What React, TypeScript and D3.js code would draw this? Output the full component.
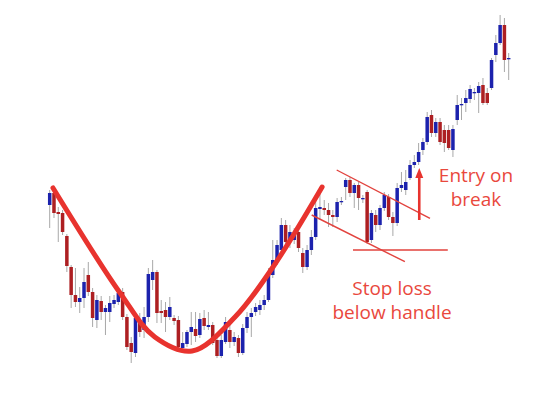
import React from "react";
import * as d3 from "d3";

// Candle data (price units), one entry per session
const opens = [195,207,188,187,164,133,105,98,102,125, 108,80,99,88,88,96,98,108,83,57, 47,80,70,83,120,128,89,90,83,82, 80,52,56,68,71,65,82,73,75,60, 44,58,70,58,62,47,72,83,88,90, 95,100,125,138,150,175,158,160,168,147, 133,150,163,191,192,190,185,183,198,213, 220,207,215,201,208,160,185,175,192,203, 183,177,212,210,222,235,238,250,258,285, 267,278,270,270,250,280,295,297,301,307, 307,315,307,312,345,357,375,341];
const closes = [207,187,186,168,134,105,98,102,118,108, 82,100,88,92,97,100,107,83,53,48, 82,68,83,126,128,87,87,83,93,79, 53,57,68,73,64,81,74,75,57,44, 60,78,58,63,47,72,83,87,93,95, 100,125,140,155,175,158,168,167,152,133, 150,163,192,193,190,185,183,198,199,220, 207,215,202,202,158,187,175,192,205,183, 177,212,215,218,235,238,248,258,283,267, 278,258,257,252,271,295,296,302,311,308, 314,297,297,340,357,375,340,342];
const highs = [210,212,193,190,166,135,132,113,132,138, 112,105,104,95,104,105,113,112,86,63, 85,87,93,132,140,130,100,98,103,85, 84,68,70,88,88,87,90,88,78,63, 65,83,75,68,65,76,88,92,97,100, 105,132,160,160,182,180,175,172,172,152, 155,170,202,207,200,197,190,202,203,222, 223,217,218,205,210,190,190,195,208,206, 188,217,228,230,240,245,257,262,288,290, 282,282,275,275,275,305,302,310,315,312, 318,322,312,342,365,385,382,347];
const lows = [172,182,158,165,128,92,93,87,92,104, 73,72,80,65,78,92,95,80,50,37, 43,63,62,78,110,77,77,68,80,75, 50,50,53,55,58,62,70,70,55,42, 42,56,52,54,43,45,67,63,84,85, 90,98,122,135,148,154,152,156,148,127, 130,145,160,180,185,173,173,178,195,200, 203,192,190,197,156,157,168,170,189,180, 164,174,208,205,220,232,235,245,255,263, 263,255,248,250,243,275,280,288,297,300, 287,295,295,310,338,355,328,320];

// Cup annotation (session index, price)
const cupIdx = [0.77, 16.4, 24.5, 33.2, 43.2, 52.05, 63.5];
const cupPrice = [212, 107, 63, 49, 83, 133, 213];
// Handle channel lines
const upperIdx = [66.9, 88.65];
const upperPrice = [230, 181.7];
const lowerIdx = [61.07, 82.8];
const lowerPrice = [185, 138.3];
// Stop level
const stopIdx = [70.7, 92.8];
const stopPrice = 150;
// Entry arrow
const arrowIdx = 86.15;
const arrowPrice = [180, 230];

const W = 554;
const H = 415;

export default function App() {
  const x = d3.scaleLinear().domain([0, opens.length - 1]).range([49.7, 508.7]);
  const y = d3.scaleLinear().domain([0, 400]).range([400, 0]);
  const bodyW = 3.5;
  const blue = "#1c22ad";
  const red = "#ad1f22";
  const annot = "#e8332e";
  const thin = "#e2423d";
  const textCol = "#e9483d";

  const cupLine = d3
    .line<number>()
    .x((_, i) => x(cupIdx[i]))
    .y((d) => y(d))
    .curve(d3.curveCatmullRom.alpha(0.5));

  const ax = x(arrowIdx);
  const ayBottom = y(arrowPrice[0]);
  const ayTop = y(arrowPrice[1]);

  const font = "'Open Sans', sans-serif";

  return (
    <div style={{ position: "fixed", left: 0, top: 0, width: W, height: H, background: "#fff" }}>
      <svg width={W} height={H} viewBox={`0 0 ${W} ${H}`} style={{ display: "block" }}>
        <rect x={0} y={0} width={W} height={H} fill="#fff" />
        <g>
          {opens.map((o, i) => {
            const c = closes[i];
            const up = c >= o;
            const top = y(Math.max(o, c));
            const bot = y(Math.min(o, c));
            const cx = x(i);
            return (
              <g key={i}>
                <line x1={cx} x2={cx} y1={y(highs[i])} y2={y(lows[i])} stroke="#a8a8a8" strokeWidth={1} />
                <rect
                  x={cx - bodyW / 2}
                  y={top}
                  width={bodyW}
                  height={Math.max(1.3, bot - top)}
                  fill={up ? blue : red}
                />
              </g>
            );
          })}
        </g>
        <path d={cupLine(cupPrice) || ""} fill="none" stroke={annot} strokeWidth={5} strokeLinecap="round" strokeLinejoin="round" />
        <line x1={x(upperIdx[0])} y1={y(upperPrice[0])} x2={x(upperIdx[1])} y2={y(upperPrice[1])} stroke={thin} strokeWidth={1.4} />
        <line x1={x(lowerIdx[0])} y1={y(lowerPrice[0])} x2={x(lowerIdx[1])} y2={y(lowerPrice[1])} stroke={thin} strokeWidth={1.4} />
        <line x1={x(stopIdx[0])} y1={y(stopPrice)} x2={x(stopIdx[1])} y2={y(stopPrice)} stroke={thin} strokeWidth={1.4} />
        <line x1={ax} y1={ayBottom} x2={ax} y2={ayTop + 6} stroke={annot} strokeWidth={2.6} />
        <path d={`M${ax},${ayTop - 2} L${ax - 4},${ayTop + 8} L${ax + 4},${ayTop + 8} Z`} fill={annot} />
        <g fill={textCol} fontFamily={font} fontSize={19} textAnchor="middle">
          <text x={476} y={182}>Entry on</text>
          <text x={476} y={206}>break</text>
          <text x={392} y={295}>Stop loss</text>
          <text x={392} y={319}>below handle</text>
        </g>
      </svg>
    </div>
  );
}
